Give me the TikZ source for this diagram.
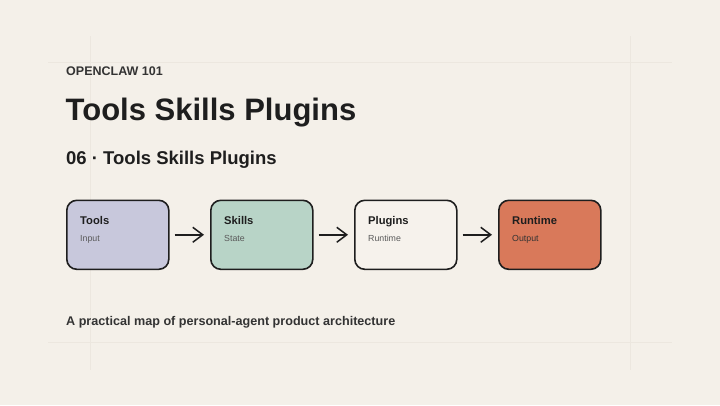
\documentclass[tikz,border=0pt]{standalone}
\usepackage{fontspec}
\setmainfont{Liberation Sans}
\usetikzlibrary{arrows.meta}
\definecolor{bg}{HTML}{F4F0E9}
\definecolor{gridc}{HTML}{ECE7DF}
\definecolor{ink}{HTML}{1E1E1E}
\definecolor{sub}{HTML}{333333}
\definecolor{muted}{HTML}{5A5A5A}
\definecolor{cTools}{HTML}{C8C8DC}
\definecolor{cSkills}{HTML}{B8D4C7}
\definecolor{cPlugins}{HTML}{F6F2EC}
\definecolor{cRuntime}{HTML}{D9795A}
\tikzset{
  card/.style={draw=ink, line width=1.6pt, rounded corners=10pt, minimum width=102pt, minimum height=69pt, anchor=north west, inner sep=0pt},
  cardtitle/.style={anchor=base west, font=\fontsize{11.2}{13}\selectfont\bfseries, text=ink, inner sep=0pt},
  cardsub/.style={anchor=base west, font=\fontsize{8.8}{10}\selectfont, text=muted, inner sep=0pt},
  flow/.style={draw=ink, line width=1.5pt, -{Straight Barb[length=10pt,width=15pt,line width=1.5pt]}},
  guide/.style={draw=gridc, line width=0.8pt}
}
\begin{document}
\begin{tikzpicture}[x=1pt,y=-1pt]
\fill[bg] (0,0) rectangle (720,405);
\useasboundingbox (0,0) rectangle (720,405);
% faint guide frame
\draw[guide] (48,62) -- (672,62);
\draw[guide] (48,342) -- (672,342);
\draw[guide] (90,36) -- (90,370);
\draw[guide] (630,36) -- (630,370);
% texts
\node[anchor=base west, inner sep=0pt, text=sub, font=\fontsize{12.5}{15}\selectfont\bfseries] (kicker) at (66,75.5) {OPENCLAW 101};
\node[anchor=base west, inner sep=0pt, text=ink, font=\fontsize{31}{36}\selectfont\bfseries] (title) at (65.5,120) {Tools Skills Plugins};
\node[anchor=base west, inner sep=0pt, text=ink, font=\fontsize{18.5}{22}\selectfont\bfseries] (subtitle) at (66,164) {06 · Tools Skills Plugins};
\node[anchor=base west, inner sep=0pt, text=sub, font=\fontsize{12.6}{15}\selectfont\bfseries] (foot) at (66,325.7) {A practical map of personal-agent product architecture};
% cards
\node[card, fill=cTools] (tools) at (66,199.5) {};
\node[card, fill=cSkills] (skills) at (210,199.5) {};
\node[card, fill=cPlugins] (plugins) at (354,199.5) {};
\node[card, fill=cRuntime] (runtime) at (498,199.5) {};
\foreach \n/\t/\s/\c in {tools/Tools/Input/muted, skills/Skills/State/muted, plugins/Plugins/Runtime/muted, runtime/Runtime/Output/sub}{
  \node[cardtitle] (\n-t) at ([xshift=14pt,yshift=-24.5pt]\n.north west) {\t};
  \node[cardsub, text=\c] (\n-s) at ([xshift=14pt,yshift=-42pt]\n.north west) {\s};
}
\draw[flow] ([xshift=5pt]tools.east) -- ([xshift=-6pt]skills.west);
\draw[flow] ([xshift=5pt]skills.east) -- ([xshift=-6pt]plugins.west);
\draw[flow] ([xshift=5pt]plugins.east) -- ([xshift=-6pt]runtime.west);
\end{tikzpicture}
\end{document}
